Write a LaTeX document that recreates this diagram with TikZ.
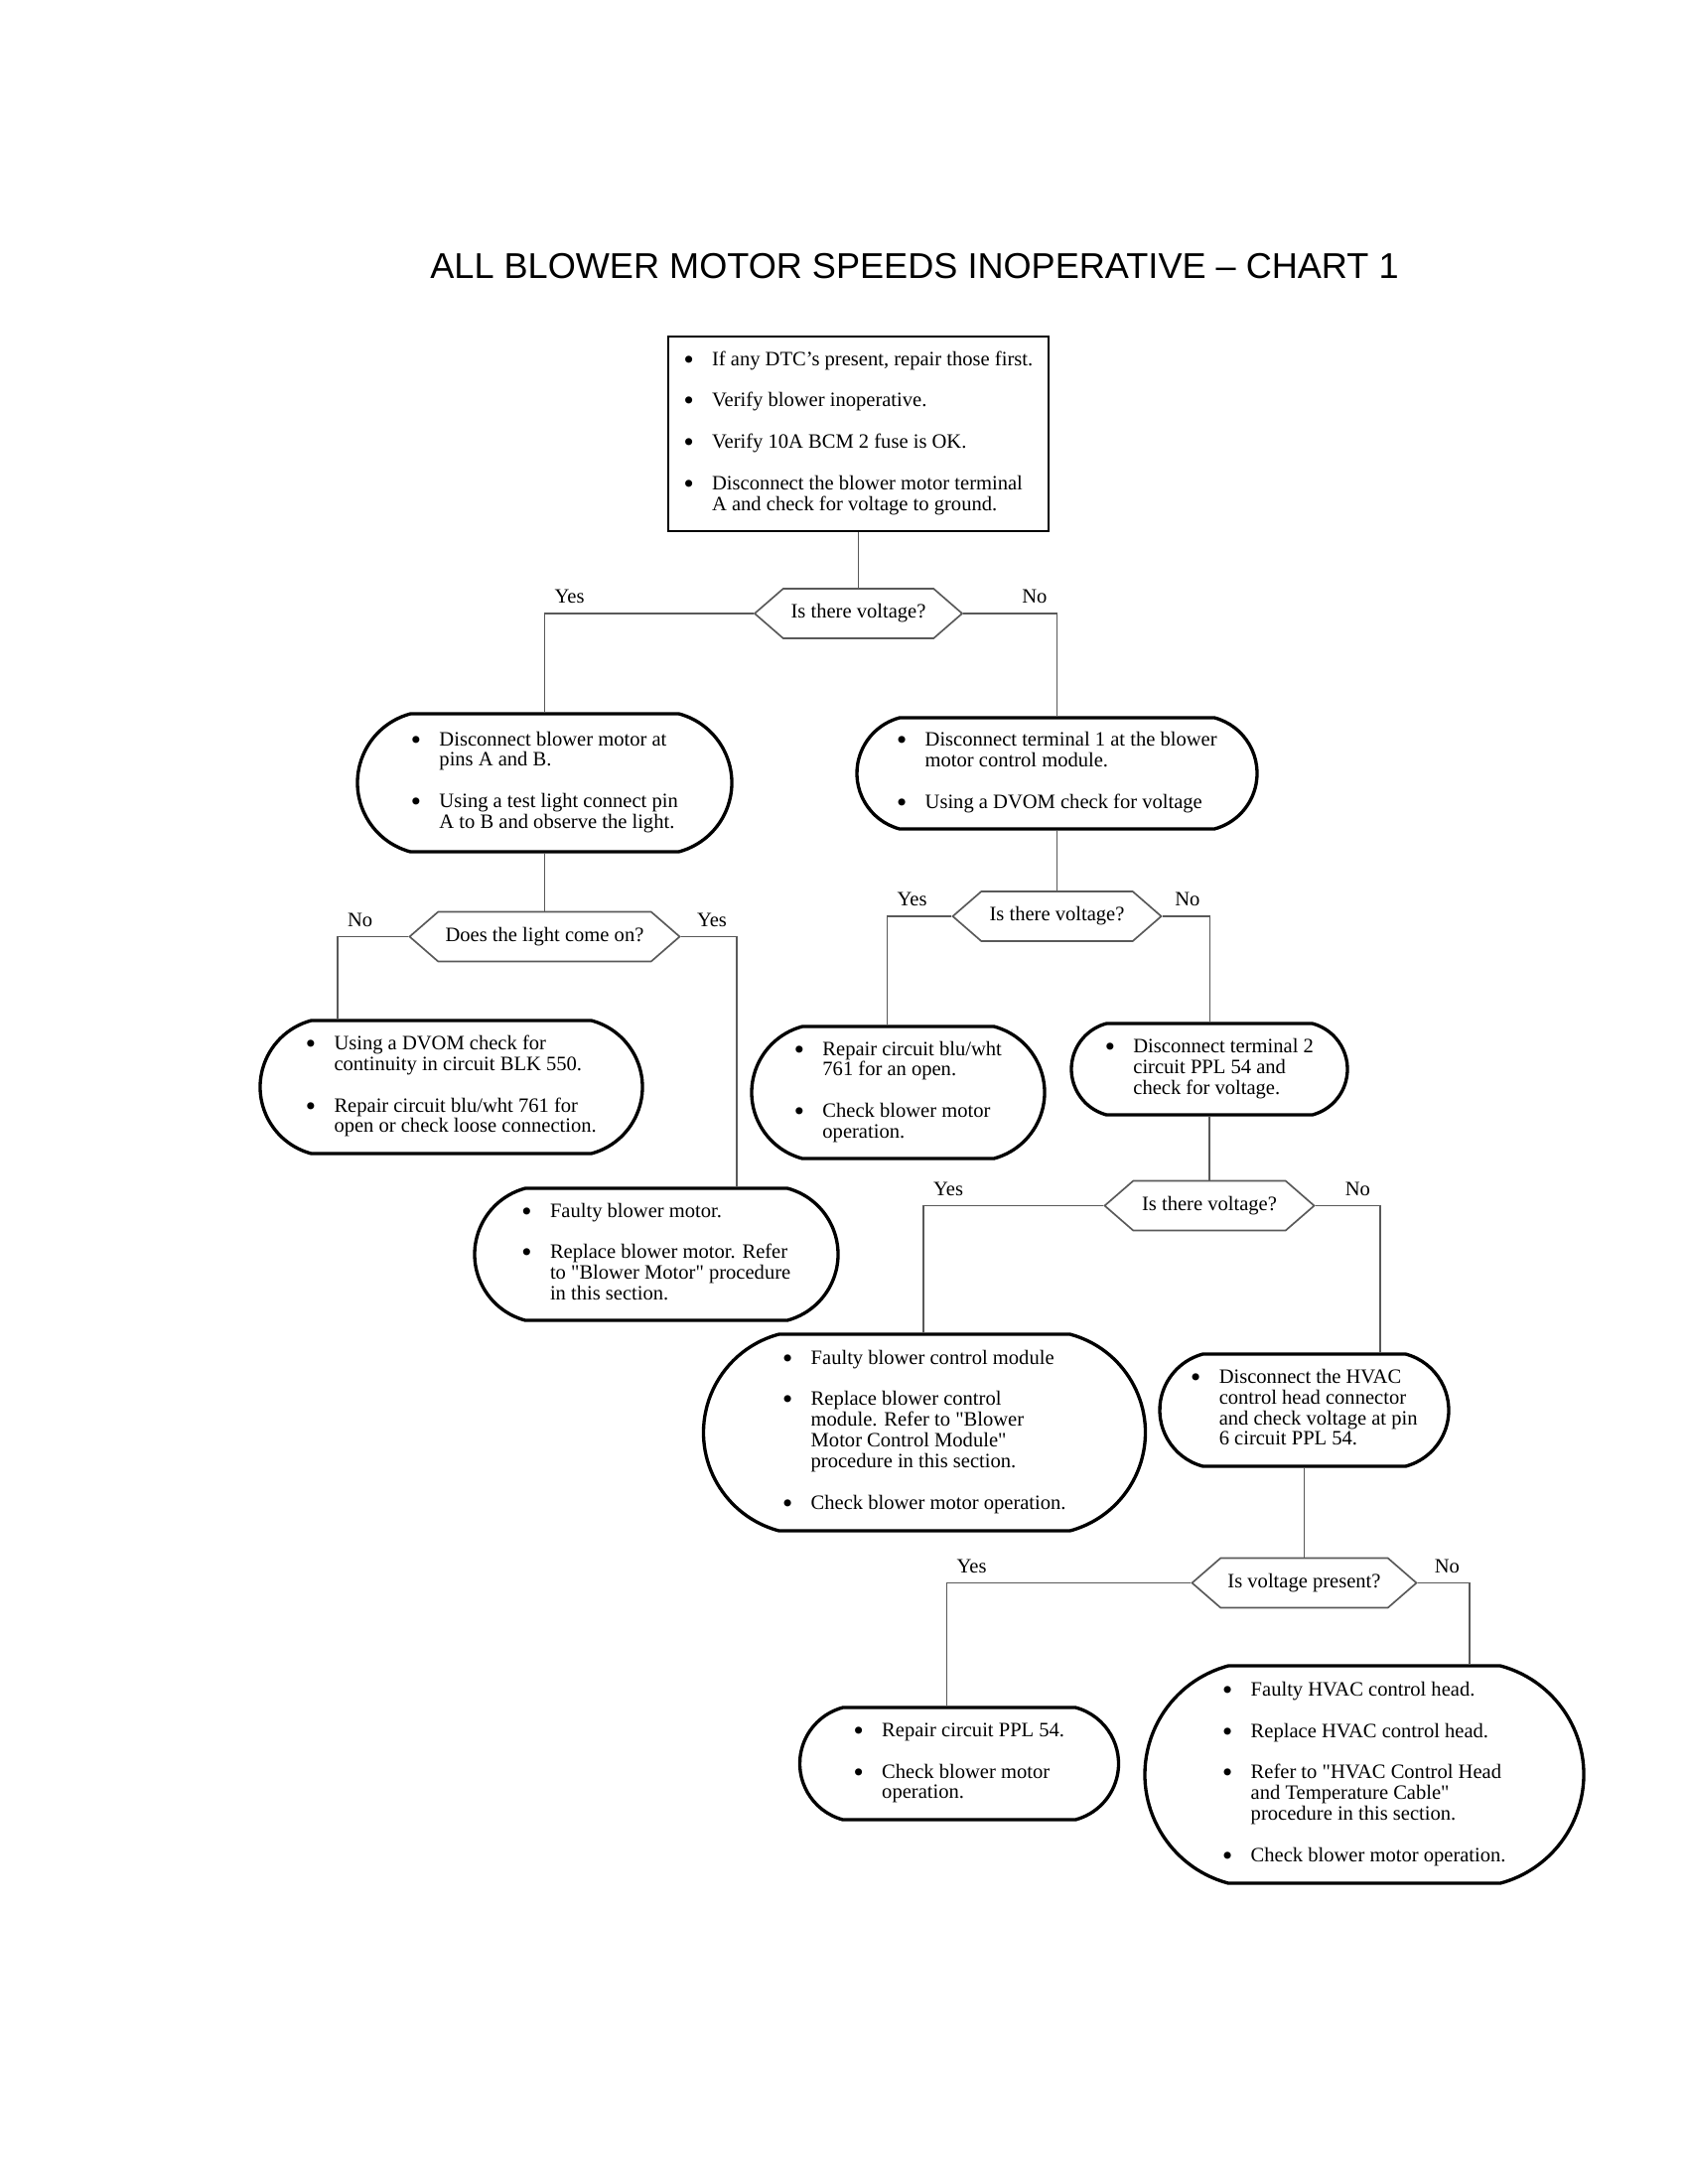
\documentclass[tikz,border=0pt]{standalone}
\usepackage{fontspec}
\setmainfont{Liberation Serif}
\newfontfamily\titlefont{Liberation Sans}
\usetikzlibrary{shapes.misc,shapes.symbols}

\newcommand{\pix}[1]{#1*0.36pt}
\newcommand{\bul}{\raisebox{0.7pt}{\scalebox{0.85}{$\bullet$}}}
\newcommand{\itemgap}{\\[7.5pt]}
\newcommand{\q}{\textquotedbl}
\newenvironment{steps}{\begin{tabular}{@{}l@{\hspace{6.7pt}}l@{}}}{\end{tabular}}

\begin{document}
\begin{tikzpicture}[
      x=0.36pt, y=-0.36pt,
      every node/.style={font=\fontsize{7.4}{7.5}\selectfont},
      textbox/.style={
         draw,
         line width=1pt,
         inner sep=0pt},
      roundbox/.style={
         rounded rectangle,
         rounded rectangle arc length=150,
         draw,
         line width=1.2pt,
         inner sep=0pt},
      question/.style={
         signal,
         signal to=west and east,
         signal from=nowhere,
         signal pointer angle=82,
         draw=black!65,
         line width=0.6pt,
         inner sep=0pt,
         minimum height=\pix{50}},
      link/.style={draw=black!65, line width=0.6pt}
      ]
      \useasboundingbox (0,0) rectangle (1700,2200);

      \node[font=\titlefont\fontsize{13}{15}\selectfont] (title) at (921,268)
         {ALL BLOWER MOTOR SPEEDS INOPERATIVE – CHART 1};

      % first checks
      \node[textbox, minimum width=\pix{383}, minimum height=\pix{196}] (start) at (864.5,437) {\begin{steps}
         \bul & If any DTC’s present, repair those first.\itemgap
         \bul & Verify blower inoperative.\itemgap
         \bul & Verify 10A BCM 2 fuse is OK.\itemgap
         \bul & Disconnect the blower motor terminal\\
              & A and check for voltage to ground.
         \end{steps}};
      \node[question, minimum width=\pix{209}] (q1) at (864.5,618) {Is there voltage?};

      % left branch
      \node[roundbox, minimum width=\pix{377}, minimum height=\pix{139}] (pins) at (548.5,788.5) {\begin{steps}
         \bul & Disconnect blower motor at\\
              & pins A and B.\itemgap
         \bul & Using a test light connect pin\\
              & A to B and observe the light.
         \end{steps}};
      \node[question, minimum width=\pix{272}] (q2) at (548.5,943.5) {Does the light come on?};
      \node[roundbox, minimum width=\pix{385}, minimum height=\pix{134}] (dvom) at (454.5,1095) {\begin{steps}
         \bul & Using a DVOM check for\\
              & continuity in circuit BLK 550.\itemgap
         \bul & Repair circuit blu/wht 761 for\\
              & open or check loose connection.
         \end{steps}};
      \node[roundbox, minimum width=\pix{366}, minimum height=\pix{133}] (motor) at (661,1263.5) {\begin{steps}
         \bul & Faulty blower motor.\itemgap
         \bul & Replace blower motor. Refer\\
              & to \q Blower Motor\q{} procedure\\
              & in this section.
         \end{steps}};

      % right branch
      \node[roundbox, minimum width=\pix{403}, minimum height=\pix{112}] (term1) at (1064.5,779) {\begin{steps}
         \bul & Disconnect terminal 1 at the blower\\
              & motor control module.\itemgap
         \bul & Using a DVOM check for voltage
         \end{steps}};
      \node[question, minimum width=\pix{210}] (q3) at (1064.5,923) {Is there voltage?};
      \node[roundbox, minimum width=\pix{295}, minimum height=\pix{133}] (open) at (904.5,1100.5) {\begin{steps}
         \bul & Repair circuit blu/wht\\
              & 761 for an open.\itemgap
         \bul & Check blower motor\\
              & operation.
         \end{steps}};
      \node[roundbox, minimum width=\pix{278}, minimum height=\pix{92}] (term2) at (1218,1077) {\begin{steps}
         \bul & Disconnect terminal 2\\
              & circuit PPL 54 and\\
              & check for voltage.
         \end{steps}};
      \node[question, minimum width=\pix{211}] (q4) at (1218,1214.5) {Is there voltage?};
      \node[roundbox, minimum width=\pix{445}, minimum height=\pix{198}] (ctrl) at (931,1443) {\begin{steps}
         \bul & Faulty blower control module\itemgap
         \bul & Replace blower control\\
              & module. Refer to \q Blower\\
              & Motor Control Module\q\\
              & procedure in this section.\itemgap
         \bul & Check blower motor operation.
         \end{steps}};
      \node[roundbox, minimum width=\pix{291}, minimum height=\pix{113}] (hvac) at (1313.5,1420.5) {\begin{steps}
         \bul & Disconnect the HVAC\\
              & control head connector\\
              & and check voltage at pin\\
              & 6 circuit PPL 54.
         \end{steps}};
      \node[question, minimum width=\pix{226}] (q5) at (1313.5,1594.5) {Is voltage present?};
      \node[roundbox, minimum width=\pix{321}, minimum height=\pix{113}] (ppl) at (966,1776.5) {\begin{steps}
         \bul & Repair circuit PPL 54.\itemgap
         \bul & Check blower motor\\
              & operation.
         \end{steps}};
      \node[roundbox, minimum width=\pix{442}, minimum height=\pix{219}] (head) at (1374,1787.5) {\begin{steps}
         \bul & Faulty HVAC control head.\itemgap
         \bul & Replace HVAC control head.\itemgap
         \bul & Refer to \q HVAC Control Head\\
              & and Temperature Cable\q\\
              & procedure in this section.\itemgap
         \bul & Check blower motor operation.
         \end{steps}};

      % straight drops
      \foreach \a/\b in {start/q1, pins/q2, term1/q3, term2/q4, hvac/q5}
      \draw[link] (\a.south) -- (\b.north);

      \foreach \src/\dst/\txt/\side/\dx in {% question side/box/answer/label side/drop shift (pt)
         q1.west/pins/Yes/above right/0,
         q1.east/term1/No/above left/0,
         q2.west/dvom/No/above right/-41.22,
         q2.east/motor/Yes/above left/29.16,
         q3.west/open/Yes/above right/-3.96,
         q3.east/term2/No/above left/0.2,
         q4.west/ctrl/Yes/above right/-0.36,
         q4.east/hvac/No/above left/27.54,
         q5.west/ppl/Yes/above right/-4.5,
         q5.east/head/No/above left/38.16}
      \draw[link] (\src) -| node[\side] {\txt} ([xshift=\dx pt]\dst.north);
\end{tikzpicture}
\end{document}
